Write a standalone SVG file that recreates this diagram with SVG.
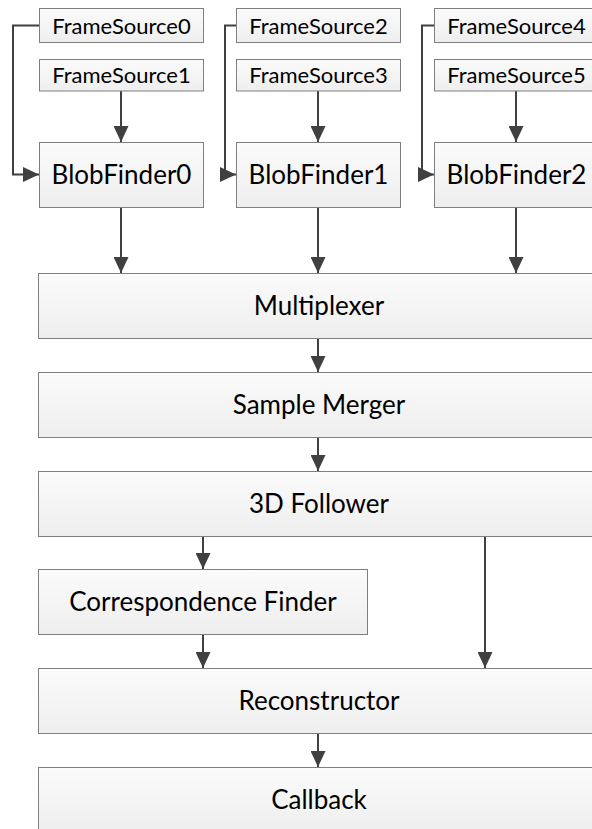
<svg xmlns="http://www.w3.org/2000/svg" width="592" height="829" viewBox="0 0 592 829">
<defs>
<linearGradient id="g" x1="0" y1="0" x2="0" y2="1">
<stop offset="0" stop-color="#fbfbfb"/>
<stop offset="1" stop-color="#eeeeee"/>
</linearGradient>
<marker id="ah" markerUnits="userSpaceOnUse" markerWidth="17" markerHeight="15" refX="16" refY="7.5" orient="auto" viewBox="0 0 16 15">
<path d="M0,0 L16,7.5 L0,15 Z" fill="#404040"/>
</marker>
</defs>
<style>
.box{fill:url(#g);stroke:#7f7f7f;stroke-width:1}
.t{font-family:Lato,"Open Sans",sans-serif;fill:#000;text-anchor:middle}
.s{font-size:22px}
.l{font-size:26px}
.c{fill:none;stroke:#404040;stroke-width:2;marker-end:url(#ah)}
</style>
<rect width="592" height="829" fill="#fff"/>
<g id="connectors">
<path class="c" d="M39,25.5 H13 V174.5 H39"/>
<path class="c" d="M236,25.5 H225 V174.5 H236"/>
<path class="c" d="M434,25.5 H422 V174.5 H434"/>
<path class="c" d="M121,91 V142"/>
<path class="c" d="M318,91 V142"/>
<path class="c" d="M516,91 V142"/>
<path class="c" d="M121,207 V273"/>
<path class="c" d="M318,207 V273"/>
<path class="c" d="M516,207 V273"/>
<path class="c" d="M318,338 V372"/>
<path class="c" d="M318,437 V471"/>
<path class="c" d="M203,536 V569"/>
<path class="c" d="M485,536 V668"/>
<path class="c" d="M203,635 V668"/>
<path class="c" d="M318,734 V767"/>
</g>
<g id="FrameSource0"><rect class="box" x="39.5" y="8.5" width="164" height="34"/><text class="t s" x="121.5" y="33.5">FrameSource0</text></g>
<g id="FrameSource1"><rect class="box" x="39.5" y="59.5" width="164" height="31.5"/><text class="t s" x="121.5" y="83">FrameSource1</text></g>
<g id="FrameSource2"><rect class="box" x="236.5" y="8.5" width="164" height="34"/><text class="t s" x="318.5" y="33.5">FrameSource2</text></g>
<g id="FrameSource3"><rect class="box" x="236.5" y="59.5" width="164" height="31.5"/><text class="t s" x="318.5" y="83">FrameSource3</text></g>
<g id="FrameSource4"><rect class="box" x="434.5" y="8.5" width="164" height="34"/><text class="t s" x="516.5" y="33.5">FrameSource4</text></g>
<g id="FrameSource5"><rect class="box" x="434.5" y="59.5" width="164" height="31.5"/><text class="t s" x="516.5" y="83">FrameSource5</text></g>
<g id="BlobFinder0"><rect class="box" x="39.5" y="142.5" width="164" height="65"/><text class="t l" x="121.5" y="184">BlobFinder0</text></g>
<g id="BlobFinder1"><rect class="box" x="236.5" y="142.5" width="164" height="65"/><text class="t l" x="318.5" y="184">BlobFinder1</text></g>
<g id="BlobFinder2"><rect class="box" x="434.5" y="142.5" width="164" height="65"/><text class="t l" x="516.5" y="184">BlobFinder2</text></g>
<g id="Multiplexer"><rect class="box" x="38.5" y="273.5" width="562" height="65"/><text class="t l" x="319" y="315">Multiplexer</text></g>
<g id="SampleMerger"><rect class="box" x="38.5" y="372.5" width="562" height="65"/><text class="t l" x="319" y="414">Sample Merger</text></g>
<g id="Follower3D"><rect class="box" x="38.5" y="471.5" width="562" height="65"/><text class="t l" x="319" y="513">3D Follower</text></g>
<g id="CorrespondenceFinder"><rect class="box" x="38.5" y="569.5" width="329" height="65"/><text class="t l" x="203" y="611">Correspondence Finder</text></g>
<g id="Reconstructor"><rect class="box" x="38.5" y="668.5" width="562" height="65"/><text class="t l" x="319" y="710">Reconstructor</text></g>
<g id="Callback"><rect class="box" x="38.5" y="767.5" width="562" height="65"/><text class="t l" x="319" y="809">Callback</text></g>
</svg>
